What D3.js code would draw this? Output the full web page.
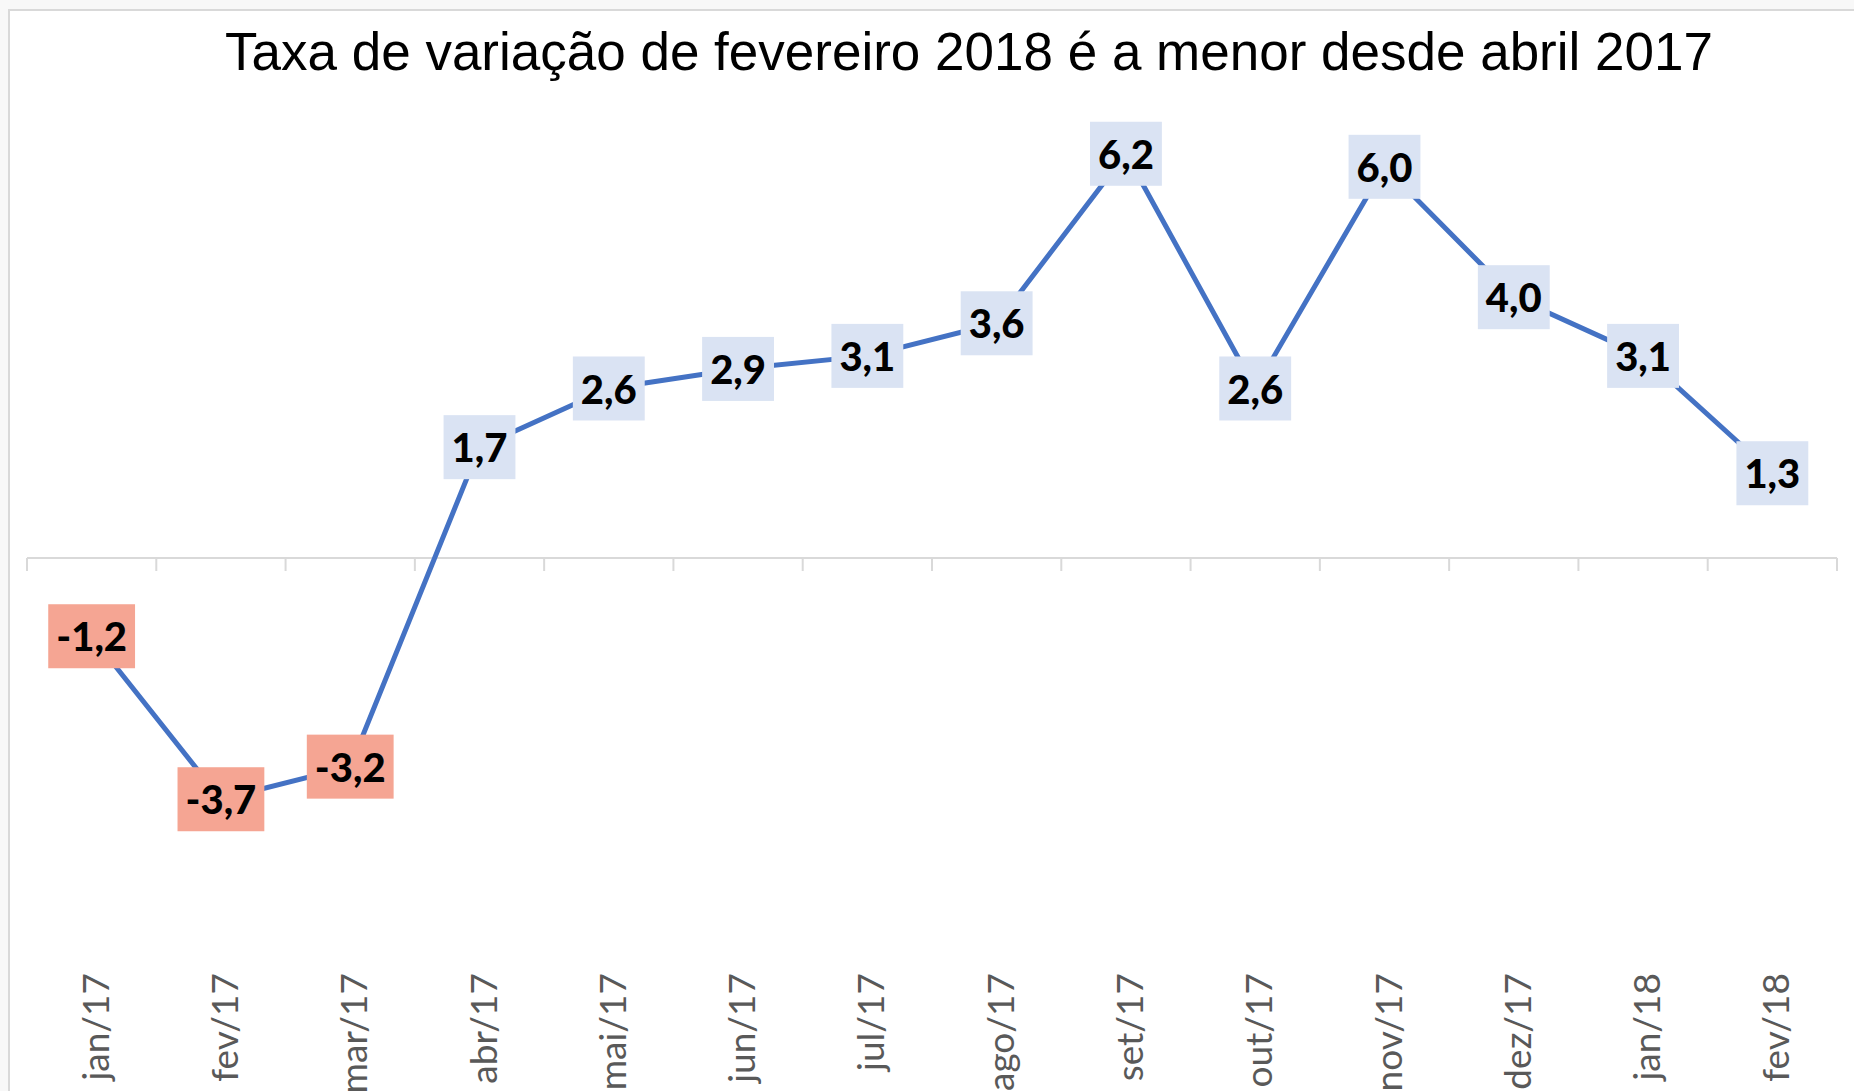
<!DOCTYPE html>
<html>
<head>
<meta charset="utf-8">
<script src="https://cdn.jsdelivr.net/npm/d3@7"></script>
<style>
  body { margin: 0; background: #f8f8f8; }
</style>
</head>
<body>
<div id="chart"></div>
<script>
// data
var months = ["jan/17", "fev/17", "mar/17", "abr/17", "mai/17", "jun/17", "jul/17",
              "ago/17", "set/17", "out/17", "nov/17", "dez/17", "jan/18", "fev/18"];
var values = [-1.2, -3.7, -3.2, 1.7, 2.6, 2.9, 3.1, 3.6, 6.2, 2.6, 6.0, 4.0, 3.1, 1.3];
var titleText = "Taxa de variação de fevereiro 2018 é a menor desde abril 2017";

var W = 1854, H = 1091;

var svg = d3.select("#chart").append("svg")
            .attr("width", W)
            .attr("height", H);

// chart area (only top and left edges visible)
svg.append("rect")
   .attr("x", 9).attr("y", 10)
   .attr("width", W + 20).attr("height", H + 20)
   .attr("fill", "white")
   .attr("stroke", "#d9d9d9")
   .attr("stroke-width", 2);

svg.append("text")
   .attr("x", 969)
   .attr("y", 70)
   .attr("text-anchor", "middle")
   .attr("font-family", "Liberation Sans, Arial, sans-serif")
   .attr("font-size", 53)
   .attr("fill", "black")
   .text(titleText);

var x = d3.scaleBand()
          .domain(months)
          .range([27, 1837]);

var y = d3.scaleLinear()
          .domain([-5, 7])
          .range([884, 101.6]);

svg.append("line")
   .attr("x1", 27).attr("x2", 1837)
   .attr("y1", y(0)).attr("y2", y(0))
   .attr("stroke", "#d9d9d9")
   .attr("stroke-width", 2);

// ticks between categories
var bounds = months.map(function(m){ return x(m); }).concat([x(months[months.length-1]) + x.bandwidth()]);
svg.selectAll(".tick-mark")
   .data(bounds)
   .enter()
   .append("line")
   .attr("class", "tick-mark")
   .attr("x1", function(d){ return d; })
   .attr("x2", function(d){ return d; })
   .attr("y1", y(0))
   .attr("y2", y(0) + 13)
   .attr("stroke", "#d9d9d9")
   .attr("stroke-width", 2);

// category labels, rotated, at the bottom
svg.selectAll(".cat")
   .data(months)
   .enter()
   .append("text")
   .attr("class", "cat")
   .attr("transform", function(d){
       return "translate(" + (x(d) + x.bandwidth()/2 + 17) + ",973) rotate(-90)";
   })
   .attr("text-anchor", "end")
   .attr("font-family", "Lato, sans-serif")
   .attr("font-size", 37)
   .attr("fill", "#595959")
   .text(function(d){ return d; });

var line = d3.line()
             .x(function(d, i){ return x(months[i]) + x.bandwidth()/2; })
             .y(function(d){ return y(d); });

svg.append("path")
   .datum(values)
   .attr("d", line)
   .attr("fill", "none")
   .attr("stroke", "#4472c4")
   .attr("stroke-width", 5)
   .attr("stroke-linejoin", "round");

// value labels in boxes
var lab = svg.selectAll(".lab")
             .data(values)
             .enter()
             .append("g")
             .attr("class", "lab")
             .attr("transform", function(d, i){
                 return "translate(" + (x(months[i]) + x.bandwidth()/2) + "," + y(d) + ")";
             });

lab.append("text")
   .attr("text-anchor", "middle")
   .attr("dy", "0.38em")
   .attr("font-family", "Lato, sans-serif")
   .attr("font-weight", 900)
   .attr("font-size", 40)
   .attr("fill", "black")
   .text(function(d){ return d.toFixed(1).replace(".", ","); });

lab.each(function(d){
    var g = d3.select(this);
    var bb = g.select("text").node().getBBox();
    g.insert("rect", "text")
     .attr("x", bb.x - 8)
     .attr("y", -32)
     .attr("width", bb.width + 16)
     .attr("height", 64)
     .attr("fill", d < 0 ? "#f5a593" : "#dae3f3");
});
</script>
</body>
</html>
